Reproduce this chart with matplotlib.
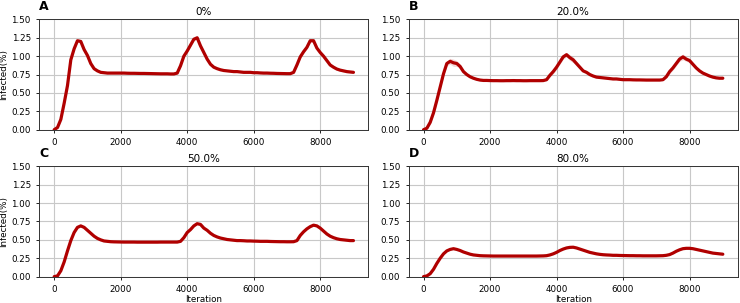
import numpy as np
import matplotlib
matplotlib.use("Agg")
import matplotlib.pyplot as plt

# --- data (mean infected %, every 100 iterations) ---
iterations = np.arange(0, 9001, 100)
panel_letters = ["A", "B", "C", "D"]
panel_titles = ["0%", "20.0%", "50.0%", "80.0%"]

infected_0 = [
    0.00, 0.03, 0.14, 0.36, 0.60, 0.95, 1.10, 1.21, 1.20, 1.09, 1.01, 0.90, 0.83, 0.80, 0.78, 0.775, 0.77, 0.77, 0.77,
    0.77, 0.77, 0.77, 0.768, 0.767, 0.767, 0.766, 0.765, 0.765, 0.764, 0.763, 0.762, 0.761, 0.76, 0.76, 0.76, 0.758, 0.758,
    0.77, 0.87, 1.00, 1.07, 1.15, 1.23, 1.25, 1.14, 1.05, 0.96, 0.89, 0.85, 0.83, 0.815, 0.805, 0.80, 0.795, 0.79, 0.79,
    0.785, 0.78, 0.78, 0.78, 0.775,
    0.775, 0.772, 0.77, 0.77, 0.768, 0.767, 0.765, 0.764, 0.763, 0.762, 0.762,
    0.78, 0.88, 0.99, 1.06, 1.12, 1.21, 1.21, 1.11, 1.05, 1.00, 0.94, 0.88, 0.85, 0.825, 0.81, 0.80, 0.79, 0.785, 0.78,
]
infected_20 = [
    0.00, 0.02, 0.10, 0.23, 0.40, 0.58, 0.76, 0.90, 0.93, 0.91, 0.90, 0.86, 0.79, 0.75, 0.72, 0.70, 0.685, 0.675, 0.67,
    0.67, 0.668, 0.667, 0.667, 0.666, 0.666, 0.667, 0.667, 0.668, 0.667, 0.667, 0.666, 0.666, 0.667, 0.667, 0.667, 0.667, 0.668,
    0.68, 0.74, 0.79, 0.85, 0.92, 0.99, 1.02, 0.98, 0.95, 0.90, 0.85, 0.80, 0.78, 0.75, 0.73, 0.715, 0.71, 0.705, 0.70,
    0.695, 0.69, 0.69, 0.685, 0.68,
    0.68, 0.68, 0.678, 0.677, 0.677, 0.676, 0.675, 0.675, 0.675, 0.675, 0.675,
    0.68, 0.72, 0.79, 0.84, 0.90, 0.96, 0.99, 0.96, 0.94, 0.89, 0.84, 0.80, 0.77, 0.75, 0.73, 0.715, 0.705, 0.70, 0.70,
]
infected_50 = [
    0.00, 0.01, 0.08, 0.20, 0.35, 0.49, 0.60, 0.67, 0.69, 0.67, 0.63, 0.59, 0.55, 0.52, 0.50, 0.485, 0.48, 0.475, 0.473,
    0.472, 0.471, 0.47, 0.47, 0.47, 0.47, 0.469, 0.469, 0.469, 0.469, 0.469, 0.469, 0.469, 0.47, 0.47, 0.47, 0.47, 0.47,
    0.47, 0.48, 0.53, 0.60, 0.64, 0.69, 0.72, 0.71, 0.66, 0.63, 0.59, 0.56, 0.54, 0.525, 0.515, 0.505, 0.50, 0.495, 0.49,
    0.49, 0.488, 0.485, 0.485, 0.483,
    0.482, 0.48, 0.48, 0.48, 0.478, 0.477, 0.476, 0.475, 0.475, 0.474, 0.474,
    0.475, 0.49, 0.56, 0.61, 0.65, 0.68, 0.70, 0.69, 0.66, 0.62, 0.58, 0.55, 0.53, 0.515, 0.505, 0.50, 0.495, 0.49, 0.49,
]
infected_80 = [
    0.00, 0.01, 0.04, 0.10, 0.18, 0.25, 0.31, 0.35, 0.37, 0.38, 0.37, 0.355, 0.335, 0.32, 0.305, 0.295, 0.29, 0.285, 0.283,
    0.282, 0.281, 0.28, 0.28, 0.28, 0.28, 0.28, 0.28, 0.28, 0.28, 0.28, 0.28, 0.28, 0.28, 0.28, 0.28, 0.281, 0.282,
    0.285, 0.295, 0.31, 0.33, 0.355, 0.375, 0.39, 0.398, 0.40, 0.39, 0.375, 0.36, 0.345, 0.33, 0.32, 0.31, 0.303, 0.298, 0.295,
    0.293, 0.29, 0.29, 0.288, 0.287,
    0.286, 0.285, 0.285, 0.284, 0.284, 0.283, 0.283, 0.283, 0.283, 0.283, 0.284,
    0.285, 0.29, 0.30, 0.32, 0.345, 0.365, 0.38, 0.385, 0.385, 0.38, 0.37, 0.36, 0.35, 0.34, 0.33, 0.32, 0.315, 0.31, 0.305,
]

# spread between runs (faint band)
spread_0 = [
    0.0, 0.01, 0.01, 0.02, 0.02, 0.02, 0.02, 0.02, 0.02, 0.02, 0.02, 0.02, 0.015, 0.01, 0.01, 0.01, 0.01, 0.01, 0.01,
    0.01, 0.01, 0.01, 0.01, 0.01, 0.01, 0.01, 0.01, 0.01, 0.01, 0.01, 0.01, 0.01, 0.01, 0.01, 0.01, 0.01, 0.01,
    0.01, 0.015, 0.02, 0.02, 0.02, 0.02, 0.02, 0.02, 0.02, 0.02, 0.015, 0.015, 0.01, 0.01, 0.01, 0.01, 0.01, 0.01, 0.01,
    0.01, 0.01, 0.01, 0.01, 0.01,
    0.01, 0.01, 0.01, 0.01, 0.01, 0.01, 0.01, 0.01, 0.01, 0.01, 0.01,
    0.01, 0.015, 0.02, 0.02, 0.02, 0.02, 0.02, 0.02, 0.02, 0.02, 0.02, 0.02, 0.02, 0.015, 0.015, 0.015, 0.015, 0.015, 0.015,
]
spread_20 = [
    0.0, 0.01, 0.02, 0.03, 0.03, 0.03, 0.03, 0.03, 0.04, 0.05, 0.04, 0.03, 0.02, 0.02, 0.015, 0.01, 0.01, 0.01, 0.01,
    0.01, 0.01, 0.01, 0.01, 0.01, 0.01, 0.01, 0.01, 0.01, 0.01, 0.01, 0.01, 0.01, 0.01, 0.01, 0.01, 0.01, 0.01,
    0.01, 0.02, 0.03, 0.03, 0.03, 0.03, 0.03, 0.04, 0.04, 0.03, 0.02, 0.02, 0.015, 0.01, 0.01, 0.01, 0.01, 0.01, 0.01,
    0.01, 0.01, 0.01, 0.01, 0.01,
    0.01, 0.01, 0.01, 0.01, 0.01, 0.01, 0.01, 0.01, 0.01, 0.01, 0.01,
    0.01, 0.02, 0.03, 0.03, 0.03, 0.03, 0.04, 0.03, 0.03, 0.02, 0.02, 0.015, 0.01, 0.01, 0.01, 0.01, 0.01, 0.01, 0.01,
]
spread_50 = [
    0.0, 0.005, 0.01, 0.01, 0.01, 0.01, 0.01, 0.01, 0.01, 0.01, 0.01, 0.01, 0.01, 0.01, 0.008, 0.008, 0.008, 0.008, 0.008,
    0.008, 0.008, 0.008, 0.008, 0.008, 0.008, 0.008, 0.008, 0.008, 0.008, 0.008, 0.008, 0.008, 0.008, 0.008, 0.008, 0.008, 0.008,
    0.008, 0.01, 0.01, 0.01, 0.01, 0.01, 0.01, 0.01, 0.01, 0.01, 0.01, 0.01, 0.008, 0.008, 0.008, 0.008, 0.008, 0.008, 0.008,
    0.008, 0.008, 0.008, 0.008, 0.008,
    0.008, 0.008, 0.008, 0.008, 0.008, 0.008, 0.008, 0.008, 0.008, 0.008, 0.008,
    0.008, 0.01, 0.01, 0.01, 0.01, 0.01, 0.01, 0.01, 0.01, 0.01, 0.01, 0.01, 0.008, 0.008, 0.008, 0.008, 0.008, 0.008, 0.008,
]
spread_80 = [
    0.0, 0.005, 0.006, 0.006, 0.006, 0.006, 0.006, 0.006, 0.006, 0.006, 0.006, 0.006, 0.006, 0.006, 0.006, 0.006, 0.006, 0.006, 0.006,
    0.006, 0.006, 0.006, 0.006, 0.006, 0.006, 0.006, 0.006, 0.006, 0.006, 0.006, 0.006, 0.006, 0.006, 0.006, 0.006, 0.006, 0.006,
    0.006, 0.006, 0.006, 0.006, 0.006, 0.006, 0.006, 0.006, 0.006, 0.006, 0.006, 0.006, 0.006, 0.006, 0.006, 0.006, 0.006, 0.006, 0.006,
    0.006, 0.006, 0.006, 0.006, 0.006,
    0.006, 0.006, 0.006, 0.006, 0.006, 0.006, 0.006, 0.006, 0.006, 0.006, 0.006,
    0.006, 0.006, 0.006, 0.006, 0.006, 0.006, 0.006, 0.006, 0.006, 0.006, 0.006, 0.006, 0.006, 0.006, 0.006, 0.006, 0.006, 0.006, 0.006,
]

means = [infected_0, infected_20, infected_50, infected_80]
spreads = [spread_0, spread_20, spread_50, spread_80]

line_color = '#b00000'

fig, axes = plt.subplots(2, 2, figsize=(7.4, 3.03), dpi=100)
fig.subplots_adjust(left=0.053, right=0.997, top=0.936, bottom=0.087,
                    wspace=0.122, hspace=0.332)

for k, ax in enumerate(axes.flat):
    m = np.array(means[k])
    s = np.array(spreads[k])
    ax.fill_between(iterations, m - s, m + s, color=line_color, alpha=0.15, lw=0)
    ax.plot(iterations, m, color=line_color, lw=2.3, solid_capstyle='round')
    ax.set_ylim(0, 1.5)
    ax.set_yticks([0, 0.25, 0.5, 0.75, 1.0, 1.25, 1.5])
    ax.set_xticks([0, 2000, 4000, 6000, 8000])
    ax.grid(True, color='#c8c8c8', lw=0.8)
    ax.set_axisbelow(True)
    ax.tick_params(labelsize=6.3, length=2.5, width=0.6)
    for spine in ax.spines.values():
        spine.set_linewidth(0.7)
        spine.set_color('#333333')
    ax.set_title(panel_titles[k], fontsize=7.5, pad=3)
    ax.text(0.0, 1.06, panel_letters[k], transform=ax.transAxes,
            fontsize=9, fontweight='bold', ha='left', va='bottom')
    if k % 2 == 0:
        ax.set_ylabel("Infected(%)", fontsize=6.3, labelpad=2)
    if k >= 2:
        ax.set_xlabel("Iteration", fontsize=6.3, labelpad=1)

fig.savefig("out.png", dpi=100)
